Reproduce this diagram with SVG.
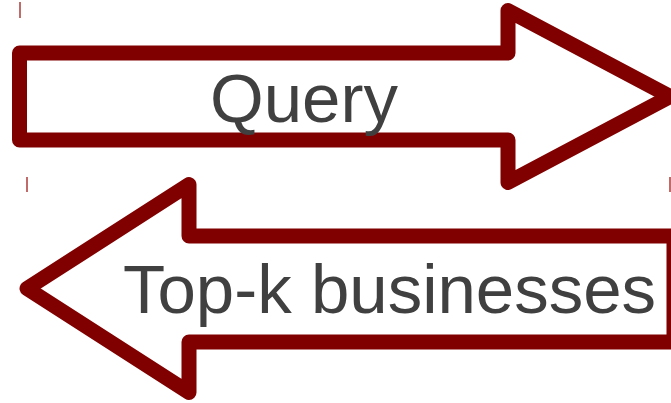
<svg xmlns="http://www.w3.org/2000/svg" width="671" height="403" viewBox="0 0 671 403">
  <style>
    .arrow { fill: #ffffff; stroke: #800000; stroke-width: 15; stroke-linejoin: round; }
    .label { font-family: "Liberation Sans", Arial, sans-serif; font-size: 69px; fill: #404040; }
    .tick { stroke: #c06a6a; stroke-width: 2; }
  </style>
  <rect width="671" height="403" fill="#ffffff"/>
  <g id="ticks">
    <line class="tick" x1="20" y1="2" x2="20" y2="18"/>
    <line class="tick" x1="27" y1="177" x2="27" y2="192"/>
    <line class="tick" x1="670" y1="177" x2="670" y2="192"/>
  </g>
  <g id="query">
    <polygon class="arrow" points="19.5,53 508,53 508,10.5 670,96.5 508,182.5 508,140 19.5,140"/>
    <text class="label" x="210" y="122">Query</text>
  </g>
  <g id="topk">
    <polygon class="arrow" points="27,288.5 189,184.5 189,236 674,236 674,342 189,342 189,392.5"/>
    <text class="label" x="123" y="313">Top-k businesses</text>
  </g>
</svg>
